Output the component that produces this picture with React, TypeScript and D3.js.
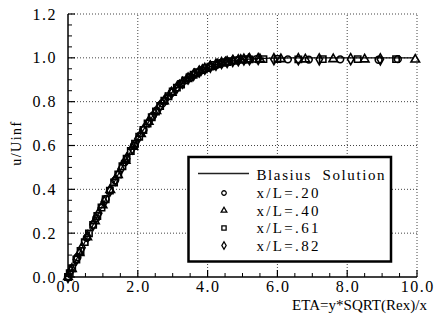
import React from "react";
import * as d3 from "d3";

// ---- data ----
const blasiusEta = [0, 0.2, 0.4, 0.6, 0.8, 1.0, 1.2, 1.4, 1.6, 1.8, 2.0, 2.2, 2.4, 2.6, 2.8, 3.0, 3.2, 3.4, 3.6, 3.8, 4.0, 4.2, 4.4, 4.6, 4.8, 5.0, 5.2, 5.4, 5.6, 5.8, 6.0, 6.4, 7.0, 8.0, 9.0, 9.9];
const blasiusU = [0, 0.0664, 0.1328, 0.1989, 0.2647, 0.3298, 0.3938, 0.4563, 0.5168, 0.5748, 0.6298, 0.6813, 0.729, 0.7725, 0.8115, 0.8461, 0.8761, 0.9018, 0.9233, 0.9411, 0.9555, 0.967, 0.9759, 0.9827, 0.9878, 0.9916, 0.9943, 0.9962, 0.9975, 0.9984, 0.999, 0.9996, 0.9999, 1.0, 1.0, 1.0];

const eta20 = [0, 0.27, 0.54, 0.81, 1.08, 1.35, 1.62, 1.89, 2.16, 2.43, 2.7, 2.97, 3.24, 3.51, 3.78, 4.05, 4.32, 4.59, 4.86, 5.13, 5.4, 6.3, 6.9, 7.8, 8.9, 9.45];
const u20 = [0, 0.09, 0.179, 0.268, 0.355, 0.441, 0.523, 0.6, 0.671, 0.736, 0.792, 0.841, 0.881, 0.914, 0.939, 0.958, 0.972, 0.982, 0.989, 0.993, 0.994, 0.993, 0.992, 0.993, 0.991, 0.994];

const eta40 = [0, 0.11, 0.33, 0.55, 0.77, 0.99, 1.21, 1.43, 1.65, 1.87, 2.09, 2.31, 2.53, 2.75, 2.97, 3.19, 3.41, 3.63, 3.85, 4.07, 4.29, 4.51, 4.73, 4.95, 5.17, 5.5, 6.1, 6.8, 7.6, 8.5, 9.95];
const u40 = [0, 0.037, 0.11, 0.182, 0.255, 0.327, 0.397, 0.465, 0.531, 0.594, 0.653, 0.708, 0.757, 0.802, 0.841, 0.875, 0.903, 0.926, 0.945, 0.96, 0.971, 0.98, 0.986, 0.991, 0.993, 0.994, 0.994, 0.993, 0.994, 0.993, 0.992];

const eta61 = [0, 0.05, 0.12, 0.24, 0.36, 0.48, 0.6, 0.72, 0.84, 0.96, 1.08, 1.2, 1.32, 1.44, 1.56, 1.68, 1.8, 1.92, 2.04, 2.16, 2.28, 2.4, 2.52, 2.64, 2.76, 2.88, 3.0, 3.12, 3.24, 3.36, 3.48, 3.6, 3.72, 3.84, 3.96, 4.08, 4.2, 4.32, 4.44, 4.56, 4.68, 4.8, 5.0, 5.2, 5.6, 6.0, 6.6, 7.3, 8.3, 9.4];
const u61 = [0, 0.017, 0.04, 0.08, 0.119, 0.159, 0.199, 0.238, 0.278, 0.317, 0.355, 0.394, 0.431, 0.468, 0.505, 0.54, 0.575, 0.608, 0.64, 0.671, 0.7, 0.729, 0.755, 0.78, 0.804, 0.825, 0.846, 0.864, 0.881, 0.897, 0.91, 0.923, 0.934, 0.944, 0.953, 0.96, 0.967, 0.972, 0.977, 0.981, 0.985, 0.988, 0.991, 0.993, 0.994, 0.995, 0.993, 0.994, 0.994, 0.994];

const eta82 = [0, 0.08, 0.24, 0.4, 0.56, 0.72, 0.88, 1.04, 1.2, 1.36, 1.52, 1.68, 1.84, 2.0, 2.16, 2.32, 2.48, 2.64, 2.8, 2.96, 3.12, 3.28, 3.44, 3.6, 3.76, 3.92, 4.08, 4.24, 4.4, 4.56, 4.72, 4.88, 5.04, 5.2, 5.45, 5.9, 6.6, 7.2, 8.1, 8.95];
const u82 = [0, 0.027, 0.08, 0.133, 0.186, 0.238, 0.291, 0.343, 0.394, 0.444, 0.493, 0.54, 0.586, 0.63, 0.671, 0.71, 0.746, 0.78, 0.812, 0.839, 0.864, 0.886, 0.906, 0.923, 0.938, 0.95, 0.96, 0.969, 0.976, 0.981, 0.986, 0.989, 0.992, 0.994, 0.995, 0.994, 0.994, 0.993, 0.994, 0.993];

const seriesNames = ["x/L=.20", "x/L=.40", "x/L=.61", "x/L=.82"];
const lineName = "Blasius  Solution";

const xTicks = [0, 2, 4, 6, 8, 10];
const xTickLabels = ["0.0", "2.0", "4.0", "6.0", "8.0", "10.0"];
const yTicks = [0, 0.2, 0.4, 0.6, 0.8, 1.0, 1.2];
const yTickLabels = ["0.0", "0.2", "0.4", "0.6", "0.8", "1.0", "1.2"];

const xTitle = "ETA=y*SQRT(Rex)/x";
const yTitle = "u/Uinf";

export default function App() {
  const W = 438, H = 321;
  const x = d3.scaleLinear().domain([0, 10]).range([68, 417]);
  const y = d3.scaleLinear().domain([0, 1.2]).range([277, 14]);

  const line = d3.line<number>().x((_, i) => x(blasiusEta[i])).y((d) => y(d));
  const shapes = [d3.symbolCircle, d3.symbolTriangle, d3.symbolSquare, d3.symbolDiamond];
  const sizes = [36, 32, 40, 34];
  const legendSizes = [16, 14, 18, 16];
  const etas = [eta20, eta40, eta61, eta82];
  const us = [u20, u40, u61, u82];

  const xMinor = d3.range(0, 10.001, 0.5).filter((v) => Math.abs(v / 2 - Math.round(v / 2)) > 1e-6);
  const yMinor = d3.range(0, 1.2001, 0.05).filter((v) => Math.abs(v / 0.2 - Math.round(v / 0.2)) > 1e-6);

  const font = "'Liberation Serif', 'Times New Roman', serif";
  const gridColor = "#444";

  const legendRows = [198, 215.5, 233, 250.5];

  return (
    <svg width={W} height={H} style={{ position: "absolute", left: 0, top: 0, background: "#fff" }} fontFamily={font}>
      <rect x={0} y={0} width={W} height={H} fill="#fff" />
      {/* grid */}
      {yTicks.filter((v) => v > 0).map((v) => (
        <line key={"gy" + v} x1={x(0)} x2={x(10)} y1={y(v)} y2={y(v)} stroke={gridColor} strokeWidth={1} strokeDasharray="1,2" />
      ))}
      {xTicks.filter((v) => v > 0).map((v) => (
        <line key={"gx" + v} x1={x(v)} x2={x(v)} y1={y(0)} y2={y(1.2)} stroke={gridColor} strokeWidth={1} strokeDasharray="1,2" />
      ))}
      {/* blasius line */}
      <path d={line(blasiusU) || ""} fill="none" stroke="#000" strokeWidth={1.2} />
      {/* markers */}
      {etas.map((es, si) => (
        <g key={"s" + si}>
          {es.map((e, i) => (
            <path
              key={i}
              d={d3.symbol().type(shapes[si]).size(sizes[si])() || ""}
              transform={`translate(${x(e)},${y(us[si][i])})`}
              fill="none"
              stroke="#000"
              strokeWidth={1.6}
            />
          ))}
        </g>
      ))}
      {/* axes */}
      <line x1={x(0)} x2={x(0)} y1={y(0)} y2={y(1.2)} stroke="#000" strokeWidth={1.5} />
      <line x1={x(0)} x2={x(10)} y1={y(0)} y2={y(0)} stroke="#000" strokeWidth={1.5} />
      {yTicks.map((v) => (
        <line key={"ty" + v} x1={x(0)} x2={x(0) + 7} y1={y(v)} y2={y(v)} stroke="#000" strokeWidth={1.2} />
      ))}
      {yMinor.map((v) => (
        <line key={"tym" + v} x1={x(0)} x2={x(0) + 4} y1={y(v)} y2={y(v)} stroke="#000" strokeWidth={1} />
      ))}
      {xTicks.map((v) => (
        <line key={"tx" + v} x1={x(v)} x2={x(v)} y1={y(0)} y2={y(0) - 7} stroke="#000" strokeWidth={1.2} />
      ))}
      {xMinor.map((v) => (
        <line key={"txm" + v} x1={x(v)} x2={x(v)} y1={y(0)} y2={y(0) - 4} stroke="#000" strokeWidth={1} />
      ))}
      {/* tick labels */}
      {yTicks.map((v, i) => (
        <text key={"ly" + v} x={57} y={y(v) + 5.5} textAnchor="end" fontSize={16} letterSpacing={1.5} fill="#000">
          {yTickLabels[i]}
        </text>
      ))}
      {xTicks.map((v, i) => (
        <text key={"lx" + v} x={x(v) + 0.75} y={291.5} textAnchor="middle" fontSize={16} letterSpacing={1.5} fill="#000">
          {xTickLabels[i]}
        </text>
      ))}
      {/* titles */}
      <text x={292} y={310} fontSize={15} textLength={135} lengthAdjust="spacing" fill="#000">
        {xTitle}
      </text>
      <text transform="translate(20.5,143) rotate(-90)" textAnchor="middle" fontSize={14} letterSpacing={1.5} fill="#000">
        {yTitle}
      </text>
      {/* legend */}
      <rect x={188.5} y={157} width={202.5} height={104.5} fill="#fff" stroke="#000" strokeWidth={2.5} />
      <line x1={198} x2={249} y1={173.5} y2={173.5} stroke="#222" strokeWidth={1.3} />
      <text x={256.5} y={180} fontSize={15} textLength={128} lengthAdjust="spacing" fill="#000" style={{ whiteSpace: "pre" }}>
        {lineName}
      </text>
      {seriesNames.map((n, si) => (
        <g key={"lg" + si}>
          <path
            d={d3.symbol().type(shapes[si]).size(legendSizes[si])() || ""}
            transform={`translate(224,${legendRows[si] - 5})`}
            fill="none"
            stroke="#000"
            strokeWidth={1.3}
          />
          <text x={256.5} y={legendRows[si]} fontSize={15} textLength={62} lengthAdjust="spacing" fill="#000">
            {n}
          </text>
        </g>
      ))}
    </svg>
  );
}
